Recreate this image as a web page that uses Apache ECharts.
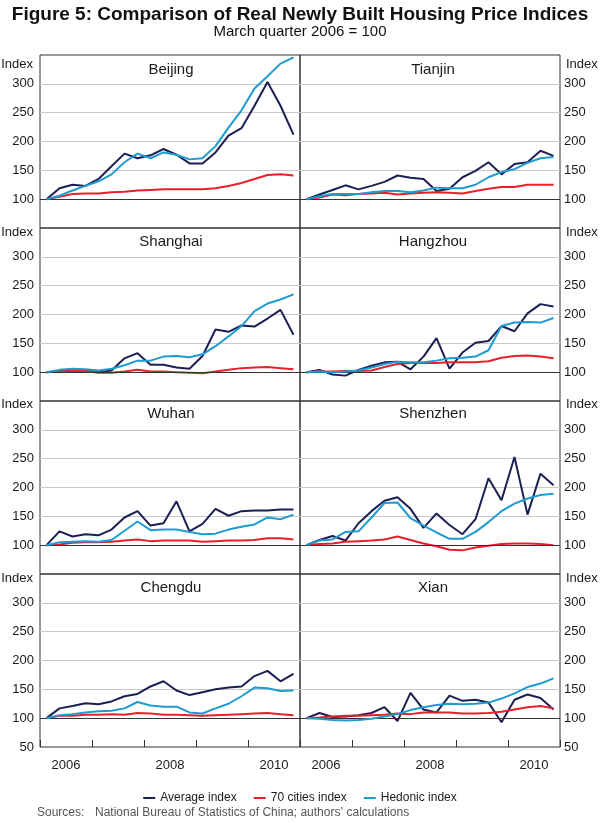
<!DOCTYPE html>
<html>
<head>
<meta charset="utf-8">
<script src="https://cdn.jsdelivr.net/npm/echarts@6/dist/echarts.min.js"></script>
<style>html,body{margin:0;padding:0;background:#fff}#c{width:600px;height:823px}</style>
</head>
<body>
<div id="c"></div>
<script>
// ---- data ----
const quarters = ['2006Q1','2006Q2','2006Q3','2006Q4','2007Q1','2007Q2','2007Q3','2007Q4','2008Q1','2008Q2','2008Q3','2008Q4','2009Q1','2009Q2','2009Q3','2009Q4','2010Q1','2010Q2','2010Q3','2010Q4'];
const years = ['2006','2007','2008','2009','2010'];
const seriesNames = ['Average index','70 cities index','Hedonic index'];
const cities = ['Beijing','Tianjin','Shanghai','Hangzhou','Wuhan','Shenzhen','Chengdu','Xian'];

const beijingAvg = [100,119,125,123,135,157,179,171,176,187,177,162,162,181,210,223,262,303,262,212];
const beijing70  = [100,104,109,110,110,112,113,115,116,117,117,117,117,119,123,128,135,142,143,141];
const beijingHed = [100,106,115,123,131,143,164,179,171,181,177,169,171,192,224,254,292,313,335,346];

const tianjinAvg = [100,108,116,124,117,123,130,141,137,135,114,118,138,149,164,143,161,164,184,175];
const tianjin70  = [100,103,108,107,109,110,111,108,110,111,112,111,110,114,118,121,121,125,125,125];
const tianjinHed = [100,105,109,109,109,112,114,114,112,115,120,119,119,125,138,147,152,163,171,173];

const shanghaiAvg = [100,102,104,103,100,103,124,133,113,113,108,106,128,174,170,181,179,193,208,165];
const shanghai70  = [100,101,102,102,99,99,101,104,101,101,100,99,98,101,104,107,108,109,107,105];
const shanghaiHed = [100,104,106,105,103,106,112,120,120,127,128,126,131,145,162,180,206,219,226,235];

const hangzhouAvg = [100,104,96,94,104,111,117,118,105,127,159,106,134,151,154,180,171,202,218,214];
const hangzhou70  = [100,101,101,102,102,103,109,114,116,116,116,117,117,117,119,125,128,129,127,124];
const hangzhouHed = [100,101,100,101,103,108,114,118,117,117,120,124,125,127,138,180,186,187,186,194];

const wuhanAvg = [100,124,115,119,117,127,148,159,134,138,176,124,137,163,151,159,160,160,162,162];
const wuhan70  = [100,101,104,105,105,106,108,110,107,108,108,108,106,107,108,108,109,112,112,110];
const wuhanHed = [100,105,106,107,106,109,125,141,126,127,127,123,119,120,127,132,136,148,145,153];

const shenzhenAvg = [100,109,116,108,138,159,177,183,163,130,155,135,119,145,216,178,253,153,224,204];
const shenzhen70  = [100,102,103,106,107,108,110,115,109,103,98,92,91,96,99,102,103,103,102,100];
const shenzhenHed = [100,108,110,123,124,148,173,174,147,134,122,111,111,123,140,159,172,181,187,189];

const chengduAvg = [100,117,121,126,124,129,138,142,155,164,148,140,145,150,153,155,173,182,164,177];
const chengdu70  = [100,104,104,106,106,107,106,109,108,106,106,105,104,105,106,107,108,109,107,105];
const chengduHed = [100,105,107,110,112,113,117,128,122,120,120,110,108,117,125,138,153,152,147,148];

const xianAvg = [100,109,102,103,105,109,119,95,144,115,110,139,130,132,127,93,132,141,135,115];
const xian70  = [100,101,103,104,104,105,106,108,107,110,110,110,108,108,109,111,115,119,121,117];
const xianHed = [100,99,97,96,97,99,103,107,114,119,123,125,124,125,127,134,143,154,160,169];

// ---- build ----
const panelData = [
  [beijingAvg, beijing70, beijingHed],
  [tianjinAvg, tianjin70, tianjinHed],
  [shanghaiAvg, shanghai70, shanghaiHed],
  [hangzhouAvg, hangzhou70, hangzhouHed],
  [wuhanAvg, wuhan70, wuhanHed],
  [shenzhenAvg, shenzhen70, shenzhenHed],
  [chengduAvg, chengdu70, chengduHed],
  [xianAvg, xian70, xianHed]
];
const colors = ['#1c1f52', '#e8202a', '#1e9bd0'];
const FONT = "'Liberation Sans', Arial, sans-serif";
const rowTops = [55, 228, 401, 574];
const panelH = 173;
const titleY = [70, 241.5, 414, 588];
const indexY = [64, 232, 404.5, 578.5];

const grids = [], xAxes = [], yAxes = [], series = [], graphics = [];
cities.forEach((city, p) => {
  const col = p % 2, row = Math.floor(p / 2);
  grids.push({left: col ? 300 : 40, top: rowTops[row], width: 260, height: panelH,
    show: true, borderColor: '#333', borderWidth: 1, backgroundColor: 'transparent'});
  const qIdx = xAxes.length;
  xAxes.push({type: 'category', gridIndex: p, data: quarters, boundaryGap: true, position: 'top',
    axisLine: {show: false}, axisTick: {show: false}, axisLabel: {show: false}, splitLine: {show: false}});
  if (row === 3) {
    xAxes.push({type: 'category', gridIndex: p, data: years, boundaryGap: true, position: 'bottom',
      axisLine: {show: false},
      axisTick: {show: true, inside: true, length: 7, lineStyle: {color: '#333'}},
      axisLabel: {interval: 0, formatter: v => (+v) % 2 === 0 ? v : '', fontSize: 13, color: '#1a1a1a', fontFamily: FONT, margin: 12},
      splitLine: {show: false}});
  }
  yAxes.push({type: 'value', gridIndex: p, min: 50, max: 350, interval: 50, position: col ? 'right' : 'left',
    axisLine: {show: false}, axisTick: {show: false},
    splitLine: {show: true, showMinLine: false, showMaxLine: false, lineStyle: {color: '#c8c8c8', width: 1}},
    axisLabel: {formatter: v => (v === 350 || (v === 50 && row < 3)) ? '' : String(v),
      fontSize: 13, color: '#1a1a1a', fontFamily: FONT, margin: col ? 4 : 6}});
  panelData[p].forEach((vals, s) => {
    const ser = {type: 'line', name: seriesNames[s], xAxisIndex: qIdx, yAxisIndex: p, data: vals,
      symbol: 'none', color: colors[s], lineStyle: {width: 2, color: colors[s]},
      emphasis: {disabled: true}, silent: true, z: 3 + s};
    if (s === 0) {
      ser.markLine = {silent: true, symbol: ['none', 'none'], animation: false,
        data: [{yAxis: 100}], label: {show: false},
        lineStyle: {color: '#333', type: 'solid', width: 1}};
    }
    series.push(ser);
  });
  graphics.push({type: 'text', x: col ? 433 : 171, y: titleY[row],
    style: {text: city, fontSize: 15, fontFamily: FONT, fill: '#1a1a1a',
      textAlign: 'center', textVerticalAlign: 'middle', align: 'center', verticalAlign: 'middle'}});
  graphics.push({type: 'text', x: col ? 566 : 33, y: indexY[row],
    style: {text: 'Index', fontSize: 13, fontFamily: FONT, fill: '#1a1a1a',
      textAlign: col ? 'left' : 'right', textVerticalAlign: 'middle', align: col ? 'left' : 'right', verticalAlign: 'middle'}});
});
graphics.push({type: 'text', x: 37, y: 813,
  style: {text: 'Sources:', fontSize: 12, fontFamily: FONT, fill: '#555',
    textAlign: 'left', textVerticalAlign: 'middle', align: 'left', verticalAlign: 'middle'}});
graphics.push({type: 'text', x: 95, y: 813,
  style: {text: 'National Bureau of Statistics of China; authors’ calculations', fontSize: 12, fontFamily: FONT, fill: '#555',
    textAlign: 'left', textVerticalAlign: 'middle', align: 'left', verticalAlign: 'middle'}});

const option = {
  animation: false,
  backgroundColor: '#fff',
  title: [
    {text: 'Figure 5: Comparison of Real Newly Built Housing Price Indices', left: 'center', top: 0,
      textStyle: {fontSize: 19, fontWeight: 'bold', color: '#111', fontFamily: FONT}},
    {text: 'March quarter 2006 = 100', left: 'center', top: 19,
      textStyle: {fontSize: 15, fontWeight: 'normal', color: '#111', fontFamily: FONT}}
  ],
  legend: {data: seriesNames, left: 'center', top: 787, icon: 'rect', itemWidth: 12, itemHeight: 2,
    itemGap: 17, textStyle: {fontSize: 12, color: '#1a1a1a', fontFamily: FONT}, selectedMode: false},
  grid: grids,
  xAxis: xAxes,
  yAxis: yAxes,
  series: series,
  graphic: graphics
};
const chart = echarts.init(document.getElementById('c'), null, {renderer: 'canvas'});
chart.setOption(option);
</script>
</body>
</html>
